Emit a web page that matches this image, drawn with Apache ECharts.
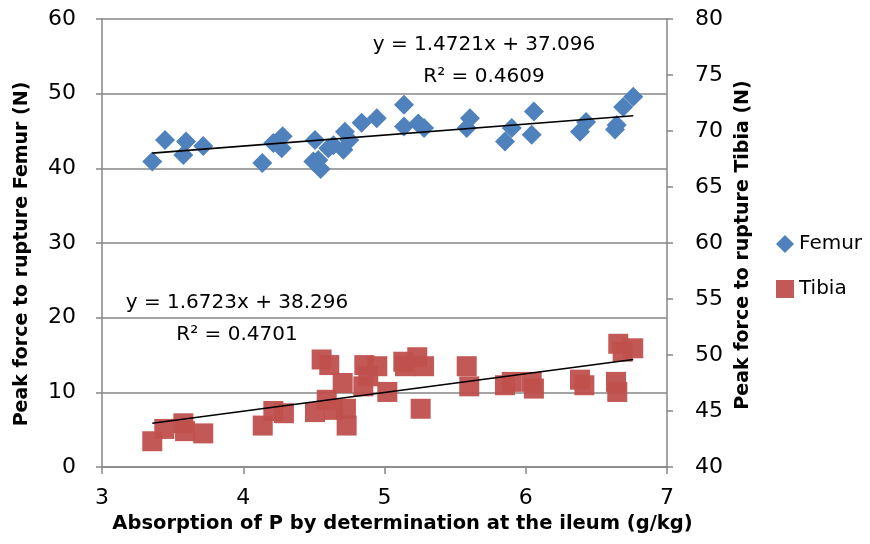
<!DOCTYPE html>
<html>
<head>
<meta charset="utf-8">
<script src="https://cdn.jsdelivr.net/npm/echarts@6/dist/echarts.min.js"></script>
<style>
  html, body { margin: 0; padding: 0; background: #fff; }
  #root { width: 870px; height: 544px; }
</style>
</head>
<body>
<div id="root"></div>
<script>
// Femur (left axis) points: absorption of P, peak force
const femurX = [3.356, 3.446, 3.576, 3.595, 3.717, 4.135, 4.213, 4.279, 4.272, 4.508, 4.496,
  4.531, 4.548, 4.602, 4.638, 4.720, 4.709, 4.751, 4.838, 4.945, 5.138, 5.138, 5.239, 5.280,
  5.605, 5.582, 5.901, 5.853, 6.058, 6.042, 6.427, 6.384, 6.644, 6.632, 6.690, 6.761];
const femurY = [40.9, 43.8, 41.8, 43.6, 43.0, 40.7, 43.4, 44.3, 42.7, 43.8, 40.9,
  41.1, 39.9, 42.7, 43.1, 44.9, 42.5, 43.8, 46.1, 46.7, 48.5, 45.6, 46.0, 45.4,
  46.7, 45.4, 45.4, 43.6, 47.6, 44.5, 46.2, 44.9, 45.8, 45.2, 48.2, 49.6];

// Tibia (right axis) points
const tibiaX = [3.356, 3.441, 3.576, 3.588, 3.717, 4.138, 4.213, 4.288, 4.508, 4.555, 4.609,
  4.704, 4.591, 4.638, 4.727, 4.732, 4.850, 4.857, 4.949, 4.885, 5.020, 5.133, 5.145, 5.232,
  5.280, 5.256, 5.582, 5.600, 5.853, 5.901, 6.042, 6.058, 6.384, 6.415, 6.639, 6.648, 6.655,
  6.686, 6.761];
const tibiaY = [42.3, 43.4, 43.9, 43.2, 43.0, 43.7, 45.0, 44.8, 44.9, 49.6, 49.1,
  47.5, 46.0, 45.1, 45.2, 43.7, 47.2, 49.1, 49.0, 48.1, 46.7, 49.4, 49.0, 49.8,
  49.0, 45.2, 49.0, 47.2, 47.3, 47.6, 47.6, 47.0, 47.8, 47.3, 47.6, 46.7, 51.0,
  50.3, 50.6];

// trend line coefficients shown on the chart
const femurFit = { slope: 1.4721, intercept: 37.096, r2: 0.4609 };
const tibiaFit = { slope: 1.6723, intercept: 38.296, r2: 0.4701 };

const xTicks = [3, 4, 5, 6, 7];
const leftTicks = [0, 10, 20, 30, 40, 50, 60];
const rightTicks = [40, 45, 50, 55, 60, 65, 70, 75, 80];

const FONT = "DejaVu Sans";
const AXIS_GREY = "#868686";

function pairs(xs, ys) {
  return xs.map((x, i) => [x, ys[i]]);
}

function fitLine(xs, fit) {
  const lo = Math.min(...xs);
  const hi = Math.max(...xs);
  return [[lo, fit.slope * lo + fit.intercept], [hi, fit.slope * hi + fit.intercept]];
}

const femurLine = fitLine(femurX, femurFit);
const tibiaLine = fitLine(tibiaX, tibiaFit);

const chart = echarts.init(document.getElementById("root"), null, { renderer: "canvas" });

const eqStyle = (text) => ({
  text, font: `20px "${FONT}"`, fill: "#000", textAlign: "center", textVerticalAlign: "middle",
});

const option = {
  animation: false,
  textStyle: { fontFamily: FONT, color: "#000" },
  grid: { left: 102, right: 203, top: 19, bottom: 77, containLabel: false },
  xAxis: {
    type: "value",
    min: xTicks[0],
    max: xTicks[xTicks.length - 1],
    interval: 1,
    name: "Absorption of P by determination at the ileum (g/kg)",
    nameLocation: "middle",
    nameGap: 47,
    nameTextStyle: { fontFamily: FONT, fontWeight: "bold", fontSize: 19.5, color: "#000", padding: [0, 0, 0, 36] },
    axisLine: { lineStyle: { color: AXIS_GREY, width: 1.5 } },
    axisTick: { show: true, inside: false, length: 7, lineStyle: { color: AXIS_GREY, width: 1.5 } },
    axisLabel: { fontFamily: FONT, fontSize: 22, color: "#000", margin: 20 },
    splitLine: { show: false },
  },
  yAxis: [
    {
      type: "value",
      min: leftTicks[0],
      max: leftTicks[leftTicks.length - 1],
      interval: 10,
      position: "left",
      name: "Peak force to rupture Femur (N)",
      nameLocation: "middle",
      nameRotate: 90,
      nameGap: 70,
      nameTextStyle: { fontFamily: FONT, fontWeight: "bold", fontSize: 19, color: "#000", padding: [0, 22, 0, 0] },
      axisLine: { show: true, lineStyle: { color: AXIS_GREY, width: 1.5 } },
      axisTick: { show: true, inside: false, length: 6, lineStyle: { color: AXIS_GREY, width: 1.5 } },
      axisLabel: { fontFamily: FONT, fontSize: 22, color: "#000", margin: 26 },
      splitLine: { show: true, lineStyle: { color: AXIS_GREY, width: 1.5 } },
    },
    {
      type: "value",
      min: rightTicks[0],
      max: rightTicks[rightTicks.length - 1],
      interval: 5,
      position: "right",
      name: "Peak force to rupture Tibia (N)",
      nameLocation: "middle",
      nameRotate: 90,
      nameGap: 66,
      nameTextStyle: { fontFamily: FONT, fontWeight: "bold", fontSize: 19, color: "#000", padding: [0, 4, 0, 0] },
      axisLine: { show: true, lineStyle: { color: AXIS_GREY, width: 1.5 } },
      axisTick: { show: true, inside: false, length: 6, lineStyle: { color: AXIS_GREY, width: 1.5 } },
      axisLabel: { fontFamily: FONT, fontSize: 22, color: "#000", margin: 28 },
      splitLine: { show: false },
    },
  ],
  legend: {
    orient: "vertical",
    left: 771,
    top: 229,
    itemWidth: 18,
    itemHeight: 18,
    itemGap: 25,
    textStyle: { fontFamily: FONT, fontSize: 20, color: "#000" },
    data: [
      { name: "Femur", icon: "diamond" },
      { name: "Tibia", icon: "rect" },
    ],
  },
  series: [
    {
      name: "Femur",
      type: "scatter",
      yAxisIndex: 0,
      symbol: "diamond",
      symbolSize: [20, 20],
      itemStyle: { color: "#4F81BD", opacity: 1 },
      data: pairs(femurX, femurY),
      z: 2,
    },
    {
      name: "Tibia",
      type: "scatter",
      yAxisIndex: 1,
      symbol: "rect",
      symbolSize: [20, 20],
      itemStyle: { color: "#C0504D", opacity: 0.95 },
      data: pairs(tibiaX, tibiaY),
      z: 2,
    },
    {
      name: "Femur trend",
      type: "line",
      yAxisIndex: 0,
      symbol: "none",
      lineStyle: { color: "#000", width: 1.6 },
      data: femurLine,
      z: 5,
      silent: true,
    },
    {
      name: "Tibia trend",
      type: "line",
      yAxisIndex: 1,
      symbol: "none",
      lineStyle: { color: "#000", width: 1.6 },
      data: tibiaLine,
      z: 5,
      silent: true,
    },
  ],
  graphic: [
    { type: "text", x: 484, y: 45, style: eqStyle(`y = ${femurFit.slope}x + ${femurFit.intercept}`) },
    { type: "text", x: 484, y: 77, style: eqStyle(`R² = ${femurFit.r2}`) },
    { type: "text", x: 237, y: 303, style: eqStyle(`y = ${tibiaFit.slope}x + ${tibiaFit.intercept}`) },
    { type: "text", x: 237, y: 335, style: eqStyle(`R² = ${tibiaFit.r2}`) },
  ],
};

chart.setOption(option);
</script>
</body>
</html>
